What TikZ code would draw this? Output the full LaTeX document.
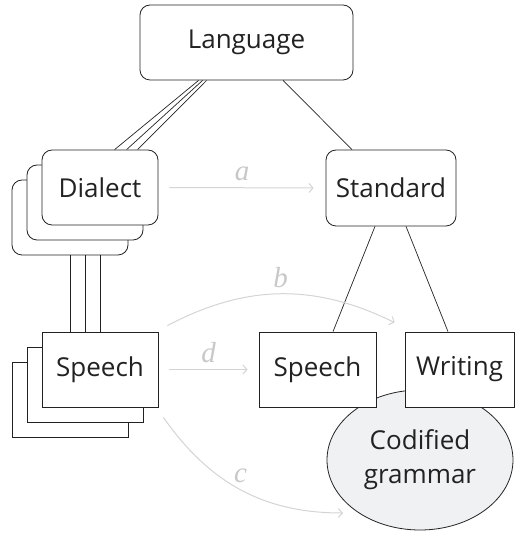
\documentclass[tikz,border=0pt]{standalone}
\usepackage{fontspec}
\setmainfont{Open Sans}
\newfontfamily\lblfont{Liberation Serif}
\usetikzlibrary{arrows.meta,calc,shapes.geometric}
\pgfdeclarelayer{bg}
\pgfsetlayers{bg,main}
\definecolor{lite}{RGB}{212,212,212}
\definecolor{lbltext}{RGB}{200,200,200}
\definecolor{cgfill}{RGB}{240,241,243}
\definecolor{ink}{RGB}{34,34,34}
\begin{document}
\begin{tikzpicture}[x=1pt,y=1pt,
  box/.style={draw=ink, line width=0.8pt, fill=white, minimum height=75pt, inner sep=0pt, font=\fontsize{26}{30}\selectfont, text=ink},
  rbox/.style={box, rounded corners=10pt},
  link/.style={draw=ink, line width=0.7pt},
  flow/.style={draw=lite, line width=1pt, -{Straight Barb[length=4pt,width=9pt]}},
  lbl/.style={text=lbltext, font=\lblfont\itshape\fontsize{29}{34}\selectfont, inner sep=6pt}
]
\useasboundingbox (0,0) rectangle (515,535);
% top
\node[rbox, minimum width=213pt] (lang) at (246.5,492.5) {Language};
% dialect stack
\node[rbox, minimum width=116pt] (d3) at (70,317.5) {};
\node[rbox, minimum width=116pt] (d2) at (85,332.5) {};
\node[rbox, minimum width=116pt] (d1) at (100,347.5) {Dialect};
\node[rbox, minimum width=130pt, minimum height=76pt] (std) at (391,347) {Standard};
% speech stack
\node[box, minimum width=116pt] (s3) at (70,135.5) {};
\node[box, minimum width=116pt] (s2) at (85,150.5) {};
\node[box, minimum width=116pt] (s1) at (100,165.5) {Speech};
% codified grammar
\node[ellipse, draw=ink, line width=0.8pt, fill=cgfill, minimum width=186pt, minimum height=140pt, inner sep=0pt, align=center, text=ink, font=\fontsize{26}{34}\selectfont] (cg) at (420,75) {Codified\\grammar};
\node[box, minimum width=117pt] (sr) at (317.5,165.5) {Speech};
\node[box, minimum width=109pt] (wr) at (459.5,165.5) {Writing};
% links behind
\begin{pgfonlayer}{bg}
\draw[link] ($(lang.south west)+(59,0)$) -- ($(d1.north west)+(73,0)$);
\draw[link] ($(lang.south west)+(63,0)$) -- ($(d1.north west)+(85,0)$);
\draw[link] ($(lang.south west)+(67,0)$) -- ($(d1.north west)+(96,0)$);
\draw[link] (d1.south) -- (s1.north);
\draw[link] (d2.south) -- (s2.north);
\draw[link] (d3.south) -- (s3.north);
\draw[link] ($(lang.south)+(36.5,0)$) -- ($(std.north)+(-39,0)$);
\draw[link] ($(std.south)+(-16,0)$) -- ($(sr.north)+(15.5,0)$);
\draw[link] ($(std.south)+(15,0)$) -- ($(wr.north)+(-11.5,0)$);
\end{pgfonlayer}
% flows
\coordinate (bstart) at ($(s1.north east)+(9,6)$);
\coordinate (bend) at ($(wr.north west)+(-10,9)$);
\coordinate (cstart) at ($(s1.south east)+(5,-10)$);
\coordinate (cend) at ($(cg.center)+(-77,-53)$);
\draw[flow, shorten <=11pt, shorten >=12pt] (d1.east) -- node[lbl, above]{a} (std.west);
\draw[flow] (bstart) to[bend left=27] node[lbl, above]{b} (bend);
\draw[flow, shorten <=11pt, shorten >=11pt] (s1.east) -- node[lbl, above]{d} (sr.west);
\draw[flow] (cstart) to[out=-55, in=180] node[lbl, above]{c} (cend);
\end{tikzpicture}
\end{document}
